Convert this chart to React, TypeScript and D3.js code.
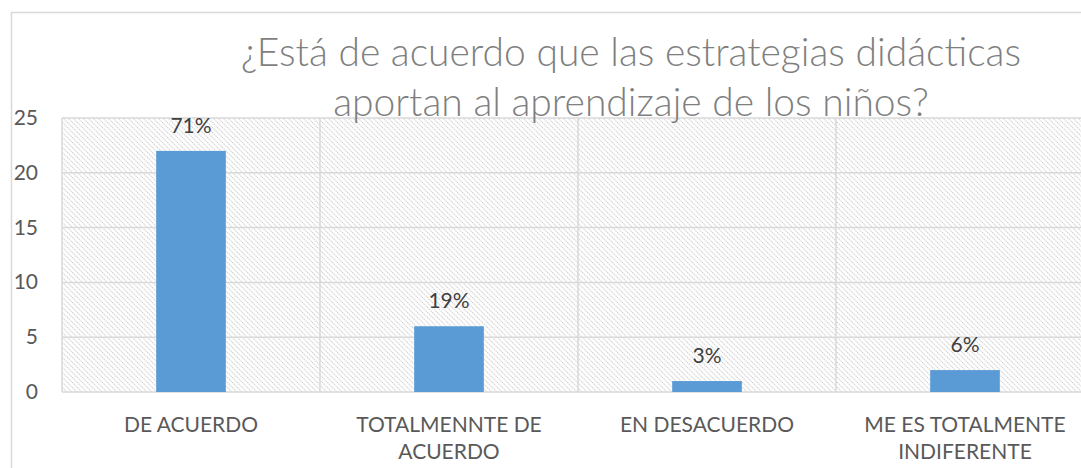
import React, { useEffect, useRef } from 'react';
import * as d3 from 'd3';

const categories = ['DE ACUERDO', 'TOTALMENNTE DE ACUERDO', 'EN DESACUERDO', 'ME ES TOTALMENTE INDIFERENTE'];
const categoryLines = [['DE ACUERDO'], ['TOTALMENNTE DE', 'ACUERDO'], ['EN DESACUERDO'], ['ME ES TOTALMENTE', 'INDIFERENTE']];
const values = [22, 6, 1, 2];
const percentLabels = ['71%', '19%', '3%', '6%'];
const yTicks = [0, 5, 10, 15, 20, 25];
const titleLines = ['¿Está de acuerdo que las estrategias didácticas', 'aportan al aprendizaje de los niños?'];

const W = 1081;
const H = 468;

const App = () => {
    const svgRef = useRef(null);

    useEffect(() => {
        const svg = d3.select(svgRef.current);
        svg.selectAll('*').remove();

        const margin = { top: 118, left: 62, bottom: 76 };
        const plotRight = 1094;
        const plotBottom = H - margin.bottom;
        const font = 'Lato, sans-serif';

        // hatch pattern for plot background
        const pattern = svg.append('defs')
            .append('pattern')
            .attr('id', 'hatch')
            .attr('patternUnits', 'userSpaceOnUse')
            .attr('width', 5)
            .attr('height', 5);
        pattern.append('path')
            .attr('d', 'M-1,-1 L6,6 M4,-1 L6,1 M-1,4 L1,6')
            .attr('stroke', '#cfcfcf')
            .attr('stroke-width', 1.1)
            .attr('stroke-dasharray', '1.4,0.8');

        // outer chart frame
        svg.append('rect')
            .attr('x', 11.5)
            .attr('y', 12.5)
            .attr('width', W)
            .attr('height', H)
            .attr('fill', 'white')
            .attr('stroke', '#d9d9d9')
            .attr('stroke-width', 1.5);

        const x = d3.scaleBand()
            .domain(categories)
            .range([margin.left, plotRight])
            .paddingInner(0.73)
            .paddingOuter(0.365);

        const bandAll = d3.scaleBand()
            .domain(categories)
            .range([margin.left, plotRight]);

        const y = d3.scaleLinear()
            .domain([0, 25])
            .range([plotBottom, margin.top]);

        svg.append('rect')
            .attr('x', margin.left)
            .attr('y', margin.top)
            .attr('width', plotRight - margin.left)
            .attr('height', plotBottom - margin.top)
            .attr('fill', 'url(#hatch)');

        // horizontal grid
        svg.selectAll('.grid-h')
            .data(yTicks)
            .enter()
            .append('line')
            .attr('x1', margin.left)
            .attr('x2', plotRight)
            .attr('y1', d => y(d))
            .attr('y2', d => y(d))
            .attr('stroke', '#d9d9d9')
            .attr('stroke-width', 1.5);

        // vertical grid between categories
        const vLines = categories.map(c => bandAll(c));
        svg.selectAll('.grid-v')
            .data(vLines)
            .enter()
            .append('line')
            .attr('x1', d => d)
            .attr('x2', d => d)
            .attr('y1', margin.top)
            .attr('y2', plotBottom)
            .attr('stroke', '#d9d9d9')
            .attr('stroke-width', 1.5);

        // bars
        svg.selectAll('.bar')
            .data(values)
            .enter()
            .append('rect')
            .attr('x', (d, i) => x(categories[i]))
            .attr('y', d => y(d))
            .attr('width', x.bandwidth())
            .attr('height', d => plotBottom - y(d))
            .attr('fill', '#5b9bd5');

        // value labels
        svg.selectAll('.val')
            .data(values)
            .enter()
            .append('text')
            .attr('x', (d, i) => x(categories[i]) + x.bandwidth() / 2)
            .attr('y', d => y(d) - 18)
            .attr('text-anchor', 'middle')
            .style('font-family', font)
            .style('font-size', '21px')
            .style('fill', '#404040')
            .text((d, i) => percentLabels[i]);

        // y axis labels
        svg.selectAll('.ytick')
            .data(yTicks)
            .enter()
            .append('text')
            .attr('x', 38)
            .attr('y', d => y(d) + 7)
            .attr('text-anchor', 'end')
            .style('font-family', font)
            .style('font-size', '21px')
            .style('fill', '#595959')
            .text(d => d);

        // category labels
        categories.forEach((c, i) => {
            const cx = bandAll(c) + bandAll.bandwidth() / 2;
            categoryLines[i].forEach((line, j) => {
                svg.append('text')
                    .attr('x', cx)
                    .attr('y', 432 + j * 27)
                    .attr('text-anchor', 'middle')
                    .style('font-family', font)
                    .style('font-size', '21px')
                    .style('fill', '#595959')
                    .text(line);
            });
        });

        // title
        titleLines.forEach((line, i) => {
            svg.append('text')
                .attr('x', 631)
                .attr('y', 66 + i * 50)
                .attr('text-anchor', 'middle')
                .style('font-family', font)
                .style('font-size', '39px')
                .style('font-weight', 300)
                .style('fill', '#7f7f7f')
                .text(line);
        });
    }, []);

    return (
        <div style={{ position: 'fixed', left: 0, top: 0, width: W, height: H, overflow: 'hidden', background: 'white' }}>
            <svg ref={svgRef} width={W} height={H}></svg>
        </div>
    );
};

export default App;
